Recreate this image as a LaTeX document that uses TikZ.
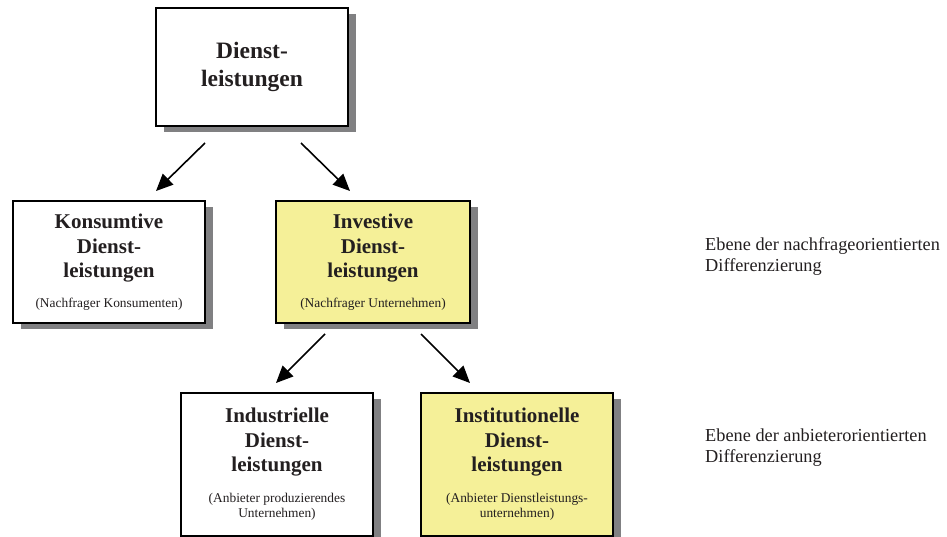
\documentclass[tikz,border=0pt]{standalone}
\usepackage{fontspec}
\setmainfont{Liberation Serif}
\usetikzlibrary{arrows.meta,shadows}
\definecolor{boxyellow}{RGB}{245,240,152}
\definecolor{shadowgray}{RGB}{128,128,130}
\definecolor{txt}{RGB}{35,31,32}
\newcommand{\ttlfont}{\fontsize{21}{24.5}\bfseries\selectfont}
\newcommand{\smlfont}{\fontsize{13.4}{15}\mdseries\selectfont}
\begin{document}
\begin{tikzpicture}[x=1pt,y=-1pt,
  box/.style={draw=black,line width=1.8pt,fill=white,align=center,text=txt,
    inner sep=0pt,font=\ttlfont,
    drop shadow={shadow xshift=8pt,shadow yshift=-6pt,fill=shadowgray,opacity=1}},
  ybox/.style={box,fill=boxyellow},
  conn/.style={line width=1.6pt,-{Triangle[length=17pt,width=15pt]}},
  side/.style={anchor=west,align=left,text=txt,inner sep=0pt,
    font=\fontsize{18.3}{21}\selectfont}
]
\useasboundingbox (0,0) rectangle (947,537);

\node[box,minimum width=192pt,minimum height=118pt,
  font=\fontsize{23.5}{28}\bfseries\selectfont] (top) at (252,67)
  {Dienst-\\leistungen};

\node[box,minimum width=192pt,minimum height=122pt] (kons) at (109,262)
  {Konsumtive\\Dienst-\\leistungen\\[5pt]\smlfont (Nachfrager Konsumenten)};

\node[ybox,minimum width=194pt,minimum height=122pt] (inv) at (373,262)
  {Investive\\Dienst-\\leistungen\\[5pt]\smlfont (Nachfrager Unternehmen)};

\node[box,minimum width=192pt,minimum height=143pt] (ind) at (277,464.5)
  {Industrielle\\Dienst-\\leistungen\\[6pt]\smlfont (Anbieter produzierendes\\[-9pt]\smlfont Unternehmen)};

\node[ybox,minimum width=192pt,minimum height=143pt] (inst) at (517,464.5)
  {Institutionelle\\Dienst-\\leistungen\\[6pt]\smlfont (Anbieter Dienstleistungs-\\[-9pt]\smlfont unternehmen)};

\node[side] (lvl1) at (705,257) {Ebene der nachfrageorientierten\\Differenzierung};
\node[side] (lvl2) at (705,448) {Ebene der anbieterorientierten\\Differenzierung};

\coordinate (a1s) at (205,143); \coordinate (a1e) at (156,191);
\coordinate (a2s) at (301,143); \coordinate (a2e) at (350,191);
\coordinate (a3s) at (325,334); \coordinate (a3e) at (276,383);
\coordinate (a4s) at (421,334); \coordinate (a4e) at (470,383);
\draw[conn] (a1s) -- (a1e);
\draw[conn] (a2s) -- (a2e);
\draw[conn] (a3s) -- (a3e);
\draw[conn] (a4s) -- (a4e);
\end{tikzpicture}
\end{document}
